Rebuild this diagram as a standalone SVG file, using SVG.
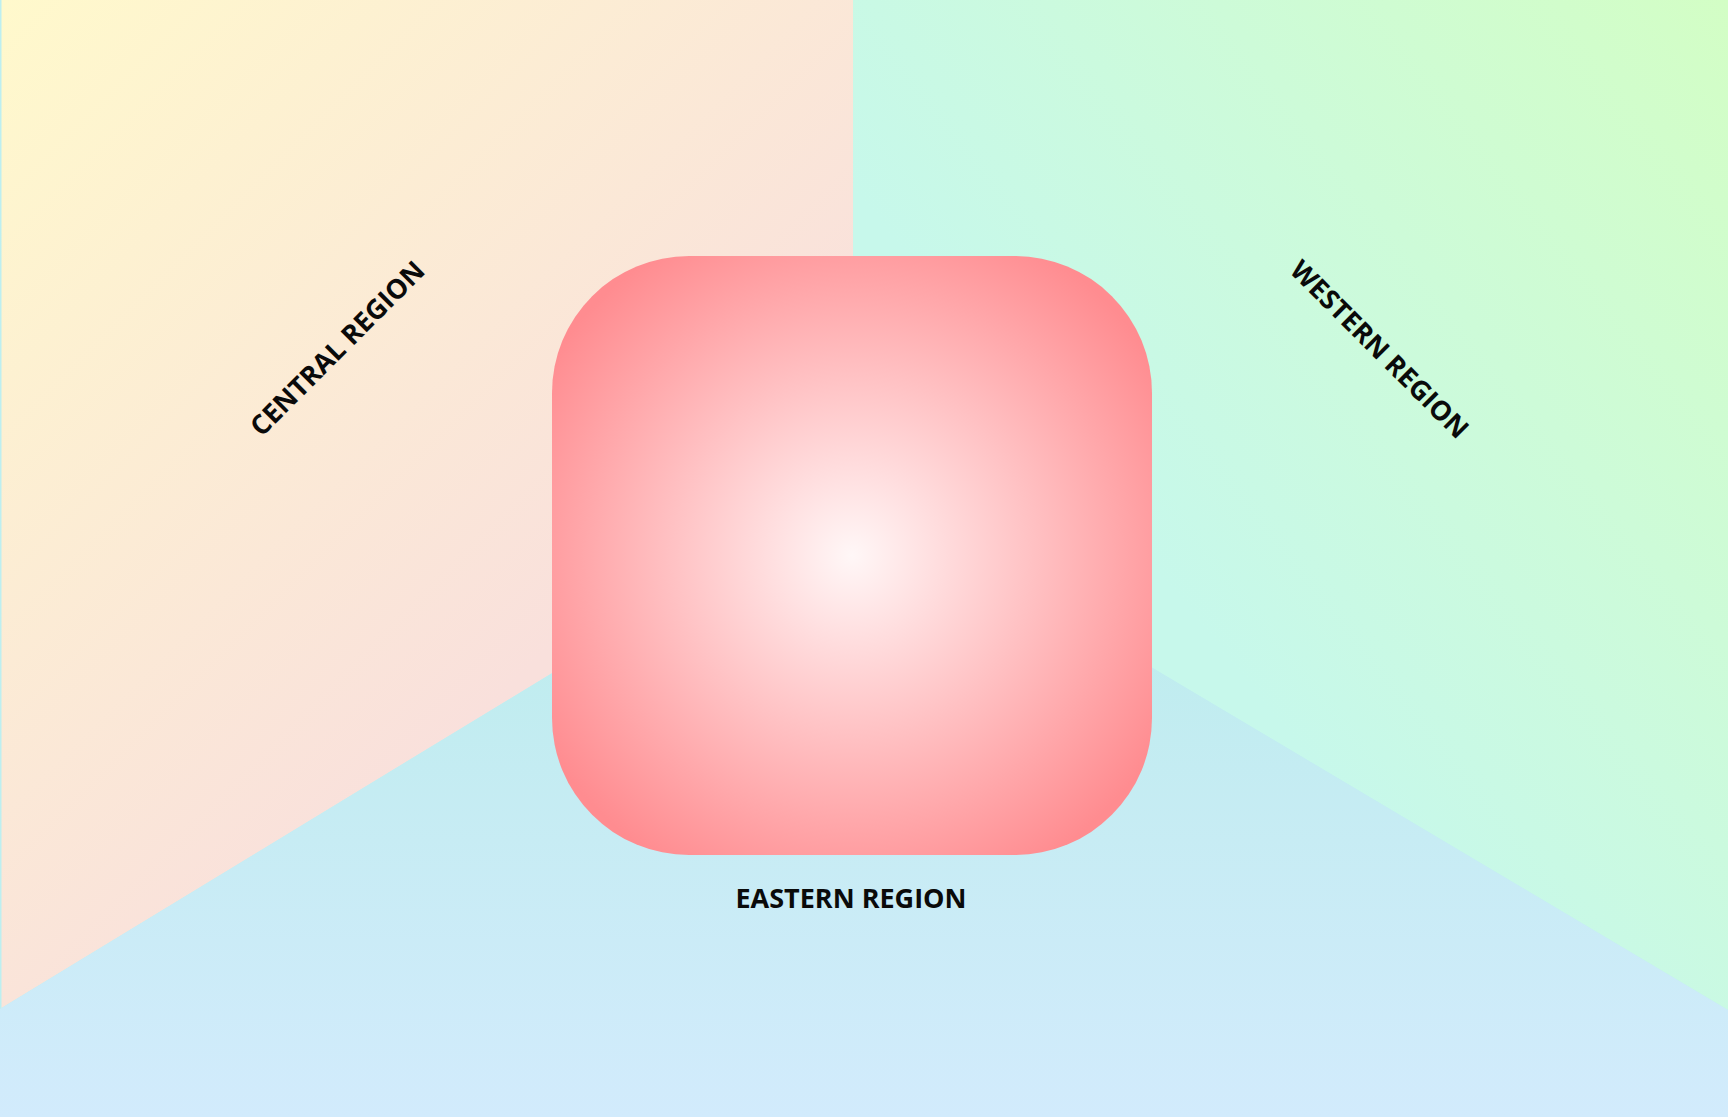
<svg xmlns="http://www.w3.org/2000/svg" width="1728" height="1117" viewBox="0 0 1728 1117">
  <style>
    .label { font-family: "Open Sans", "Noto Sans", "Liberation Sans", sans-serif; font-weight: 700; font-size: 27px; fill: #0a0a0a; text-anchor: middle; }
  </style>
  <defs>
    <linearGradient id="gCentral" gradientUnits="userSpaceOnUse" x1="0" y1="0" x2="600" y2="600">
      <stop offset="0" stop-color="#FFF9CC"/>
      <stop offset="1" stop-color="#F9E0DC"/>
    </linearGradient>
    <linearGradient id="gWestern" gradientUnits="userSpaceOnUse" x1="1728" y1="0" x2="1100" y2="500">
      <stop offset="0" stop-color="#D3FEC5"/>
      <stop offset="1" stop-color="#C7F8EB"/>
    </linearGradient>
    <linearGradient id="gEastern" gradientUnits="userSpaceOnUse" x1="0" y1="490" x2="0" y2="1117">
      <stop offset="0" stop-color="#B9EDEA"/>
      <stop offset="1" stop-color="#D2EBFC"/>
    </linearGradient>
    <radialGradient id="gCore" cx="0.5" cy="0.5" r="0.6">
      <stop offset="0" stop-color="#FFF7F7"/>
      <stop offset="1" stop-color="#FF8C90"/>
    </radialGradient>
  </defs>
  <rect x="0" y="0" width="1728" height="1117" fill="#BDEFF0"/>
  <g id="central-region">
    <polygon points="1.5,0 853,0 853,490 1.5,1008" fill="url(#gCentral)"/>
    <text class="label" transform="translate(337,348) rotate(-45)" y="10">CENTRAL REGION</text>
  </g>
  <g id="western-region">
    <polygon points="853,0 1728,0 1728,1010 853,490" fill="url(#gWestern)"/>
    <text class="label" transform="translate(1380,349) rotate(45)" y="10">WESTERN REGION</text>
  </g>
  <g id="eastern-region">
    <polygon points="0,1009 853,490 1728,1010 1728,1117 0,1117" fill="url(#gEastern)"/>
    <text class="label" x="851" y="908">EASTERN REGION</text>
  </g>
  <g id="core">
    <rect x="552" y="256" width="600" height="599" rx="137" ry="137" fill="url(#gCore)"/>
  </g>
  <g id="connectors"/>
</svg>
